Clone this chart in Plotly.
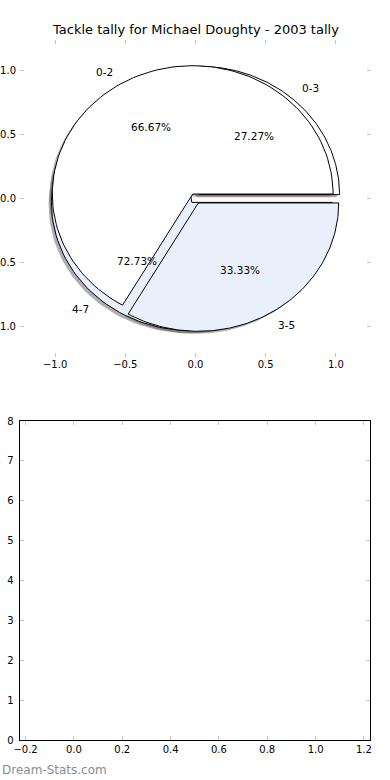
import numpy as np
import plotly.graph_objects as go

# ---- data ----
pie_a_labels = ["0-2", "3-5"]
pie_a_values = [2, 1]
pie_b_labels = ["0-3", "4-7"]
pie_b_values = [3, 8]
pie_colors = ["#ffffff", "#eaf0fb"]
title_text = "Tackle tally for Michael Doughty - 2003 tally"
pie_xticks = [-1.0, -0.5, 0.0, 0.5, 1.0]
pie_yticks = [-1.0, -0.5, 0.0, 0.5, 1.0]
bar_xticks = [-0.2, 0.0, 0.2, 0.4, 0.6, 0.8, 1.0, 1.2]
bar_yticks = [0, 1, 2, 3, 4, 5, 6, 7, 8]

EXPLODE = 0.04
SHADOW = (-0.02, -0.02)
FONT = "DejaVu Sans"

fig = go.Figure()


def wedges(values):
    vals = np.asarray(values, dtype=float)
    frac = vals / vals.sum()
    out = []
    t1 = 0.0
    for f in frac:
        t2 = t1 + f
        th = np.linspace(2 * np.pi * t1, 2 * np.pi * t2, 120)
        thm = np.pi * (t1 + t2)
        cx, cy = EXPLODE * np.cos(thm), EXPLODE * np.sin(thm)
        xs = np.concatenate([[cx], cx + np.cos(th), [cx]])
        ys = np.concatenate([[cy], cy + np.sin(th), [cy]])
        out.append(dict(x=xs, y=ys, cx=cx, cy=cy, thm=thm, frac=f))
        t1 = t2
    return out


pies = [(pie_b_labels, pie_b_values), (pie_a_labels, pie_a_values)]
all_w = [wedges(v) for _, v in pies]

# shadows (below all wedges)
for ws in all_w:
    for w in ws:
        fig.add_trace(go.Scatter(x=w["x"] + SHADOW[0], y=w["y"] + SHADOW[1], mode="lines",
                                 fill="toself", fillcolor="rgba(77,77,77,0.45)",
                                 line=dict(width=0), hoverinfo="skip", showlegend=False,
                                 xaxis="x", yaxis="y"))
# wedges
annotations = []
for (labels, _), ws in zip(pies, all_w):
    for i, (lab, w) in enumerate(zip(labels, ws)):
        fig.add_trace(go.Scatter(x=w["x"], y=w["y"], mode="lines", fill="toself",
                                 fillcolor=pie_colors[i % len(pie_colors)],
                                 line=dict(color="black", width=1), hoverinfo="skip",
                                 showlegend=False, xaxis="x", yaxis="y"))
        xt = w["cx"] + 1.1 * np.cos(w["thm"])
        yt = w["cy"] + 1.1 * np.sin(w["thm"])
        annotations.append(dict(x=xt, y=yt, xref="x", yref="y", text=lab, showarrow=False,
                                xanchor="left" if xt > 0 else "right", yanchor="middle",
                                font=dict(family=FONT, size=10.5, color="black")))
        xp = w["cx"] + 0.6 * np.cos(w["thm"])
        yp = w["cy"] + 0.6 * np.sin(w["thm"])
        annotations.append(dict(x=xp, y=yp, xref="x", yref="y",
                                text="%1.2f%%" % (100 * w["frac"]), showarrow=False,
                                xanchor="center", yanchor="middle",
                                font=dict(family=FONT, size=10.5, color="black")))

annotations.append(dict(x=0.5, y=1 - 29.5 / 780, xref="paper", yref="paper", text=title_text,
                        showarrow=False, xanchor="center", yanchor="middle",
                        font=dict(family=FONT, size=13, color="black")))
annotations.append(dict(x=0, y=1 - 770 / 780, xref="paper", yref="paper", text="Dream-Stats.com",
                        showarrow=False, xanchor="left", yanchor="middle",
                        font=dict(family=FONT, size=12, color="#8c8c8c")))

# empty trace for lower axes
fig.add_trace(go.Scatter(x=[], y=[], xaxis="x2", yaxis="y2", showlegend=False))

tick_common = dict(ticks="inside", ticklen=4, tickwidth=1, tickcolor="#c4c4c4",
                   showgrid=False, zeroline=False, automargin=False,
                   tickfont=dict(family=FONT, size=10, color="black"))

fig.update_layout(
    width=390, height=780,
    margin=dict(l=0, r=0, t=0, b=0, autoexpand=False),
    paper_bgcolor="white", plot_bgcolor="white",
    showlegend=False,
    annotations=annotations,
    xaxis=dict(domain=[20 / 390, 371 / 390], range=[-1.25, 1.25], anchor="y",
               tickvals=pie_xticks, ticktext=["\u22121.0", "\u22120.5", "0.0", "0.5", "1.0"],
               showline=False, mirror="ticks", **tick_common),
    yaxis=dict(domain=[1 - 357 / 780, 1 - 40 / 780], range=[-1.235, 1.235], anchor="x",
               tickvals=pie_yticks, ticktext=["\u22121.0", "\u22120.5", "0.0", "0.5", "1.0"],
               showline=False, mirror="ticks", ticklabelstandoff=3, **tick_common),
    xaxis2=dict(domain=[19.5 / 390, 370 / 390], range=[-0.225, 1.225], anchor="y2",
                tickvals=bar_xticks, ticktext=["\u22120.2", "0.0", "0.2", "0.4", "0.6", "0.8", "1.0", "1.2"],
                showline=True, linecolor="black", linewidth=1, mirror="ticks", **tick_common),
    yaxis2=dict(domain=[1 - 740 / 780, 1 - 421 / 780], range=[0, 8], anchor="x2",
                tickvals=bar_yticks,
                showline=True, linecolor="black", linewidth=1, mirror="ticks",
                ticklabelstandoff=3, **tick_common),
)

fig.write_html("out.html", config={"displayModeBar": False},
               post_script="document.body.style.margin='0';document.body.style.padding='0';")
